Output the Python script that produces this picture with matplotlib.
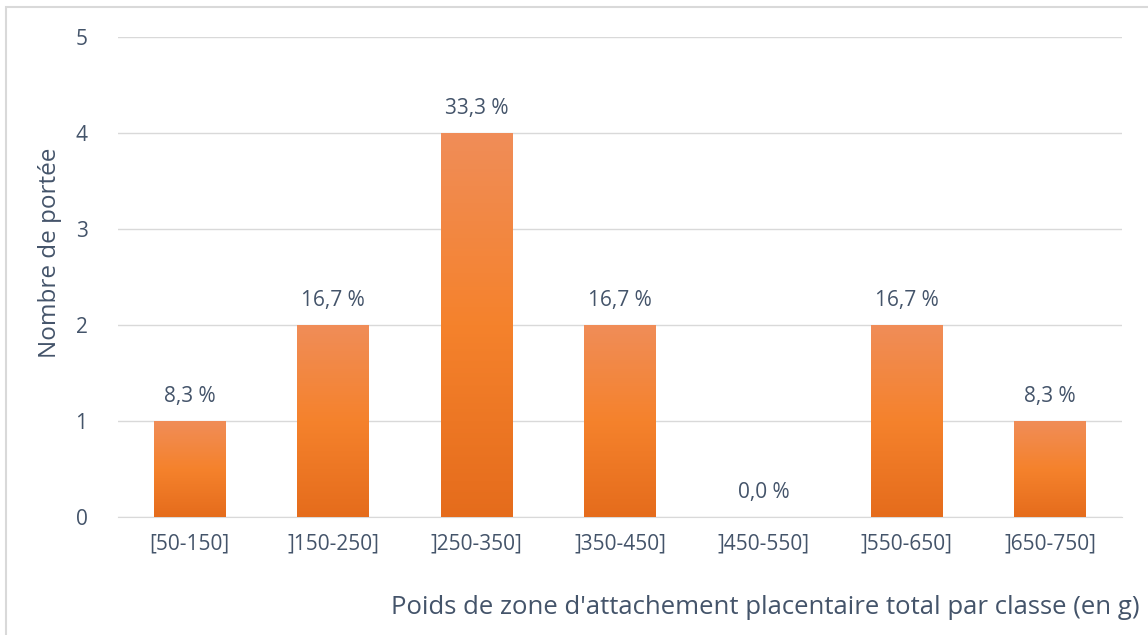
import matplotlib
matplotlib.use("Agg")
import matplotlib.pyplot as plt
from matplotlib.colors import LinearSegmentedColormap
from matplotlib.patches import Rectangle
import numpy as np

plt.rcParams['font.family'] = ['Open Sans', 'DejaVu Sans']

classes = ['[50-150]', ']150-250]', ']250-350]', ']350-450]', ']450-550]', ']550-650]', ']650-750]']
counts = [1, 2, 4, 2, 0, 2, 1]
percents = ['8,3 %', '16,7 %', '33,3 %', '16,7 %', '0,0 %', '16,7 %', '8,3 %']

text_col = '#44546A'
grad = LinearSegmentedColormap.from_list('bar', ['#E56C1C', '#F5822C', '#F08D58'])

fig = plt.figure(figsize=(11.48, 6.35), dpi=100)
ax = fig.add_axes([118 / 1148, 1 - 517 / 635, (1122 - 118) / 1148, (517 - 37) / 635])

x = np.arange(len(classes))
bars = ax.bar(x, counts, width=0.5, color='none', zorder=3)
for b in bars:
    h = b.get_height()
    if h <= 0:
        continue
    x0 = b.get_x()
    w = b.get_width()
    img = ax.imshow(np.linspace(0, 1, 256).reshape(-1, 1), cmap=grad, aspect='auto',
                    origin='lower', extent=[x0, x0 + w, 0, h], zorder=3)
    img.set_clip_path(b)

for xi, c, p in zip(x, counts, percents):
    ax.text(xi, c + 0.15, p, ha='center', va='bottom', fontsize=15, color=text_col)

ax.set_xlim(-0.5, len(classes) - 0.5)
ax.set_ylim(0, 5)
ax.set_yticks(range(6))
ax.set_xticks(x)
ax.set_xticklabels(classes)
ax.tick_params(axis='both', length=0, labelsize=15, colors=text_col)
ax.tick_params(axis='y', pad=22)
ax.tick_params(axis='x', pad=12)
ax.grid(axis='y', color='#D9D9D9', linewidth=1, zorder=0)
for s in ['top', 'right', 'left']:
    ax.spines[s].set_visible(False)
ax.spines['bottom'].set_color('#D9D9D9')

ax.set_ylabel('Nombre de portée', fontsize=17.5, color=text_col, labelpad=6)
ax.yaxis.set_label_coords(-0.056, 0.55)
fig.text(1140 / 1148, 1 - 608 / 635, "Poids de zone d'attachement placentaire total par classe (en g)",
         ha='right', va='center', fontsize=18.5, color=text_col)

fig.patches.append(Rectangle((6 / 1148, -0.01), 1.02, 1 - 7 / 635 + 0.01, transform=fig.transFigure,
                             fill=False, edgecolor='#D9D9D9', linewidth=1.5))

fig.savefig('out.png', dpi=100)
